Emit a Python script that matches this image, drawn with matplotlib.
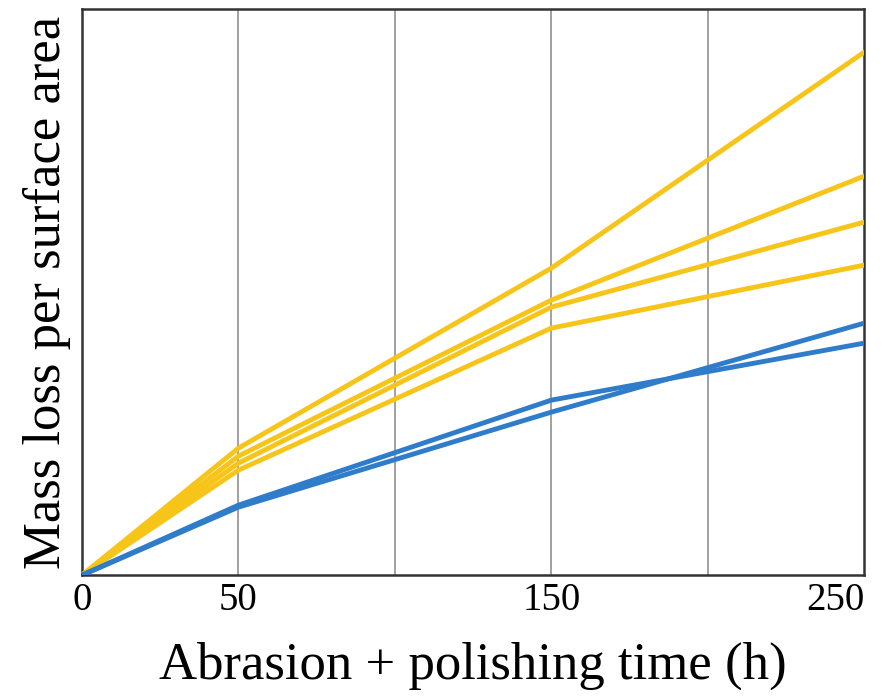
import matplotlib
matplotlib.use("Agg")
import matplotlib.pyplot as plt

# time points (h)
hours = [0, 50, 150, 250]

# mass loss per surface area (arbitrary units)
yellow1 = [0, 1.27, 3.07, 5.23]
yellow2 = [0, 1.19, 2.75, 3.99]
yellow3 = [0, 1.12, 2.68, 3.53]
yellow4 = [0, 1.05, 2.47, 3.10]
blue1 = [0, 0.70, 1.75, 2.32]
blue2 = [0, 0.68, 1.63, 2.52]

grid_x = [50, 100, 150, 200]
tick_x = [0, 50, 150, 250]
tick_labels = ['0', '50', '150', '250']

yellow = '#F7C519'
blue = '#2F7CCB'

plt.rcParams['font.family'] = ['Liberation Serif', 'DejaVu Serif']

fig = plt.figure(figsize=(8.91, 6.98), dpi=100)
ax = fig.add_axes([0.092, 0.176, 0.878, 0.811])

for g in grid_x:
    ax.axvline(g, color='#9a9a9a', lw=1.3, zorder=1)

for s in [yellow1, yellow2, yellow3, yellow4]:
    ax.plot(hours, s, color=yellow, lw=3.5, solid_capstyle='round', zorder=3)
for s in [blue1, blue2]:
    ax.plot(hours, s, color=blue, lw=3.5, solid_capstyle='round', zorder=4)

ax.set_xlim(0, 250)
ax.set_ylim(0, 5.66)
ax.set_xticks(tick_x)
ax.set_xticklabels(tick_labels, fontsize=28)
ax.set_yticks([])
ax.tick_params(axis='x', length=0, pad=5)
lbls = ax.get_xticklabels()
lbls[-1].set_horizontalalignment('right')
lbls[-1].set_x(250)

for sp in ax.spines.values():
    sp.set_color('#333333')
    sp.set_linewidth(1.8)

ax.set_xlabel('Abrasion + polishing time (h)', fontsize=38, labelpad=16)
ax.set_ylabel('Mass loss per surface area', fontsize=38, labelpad=8)

fig.savefig('out.png', dpi=100)
